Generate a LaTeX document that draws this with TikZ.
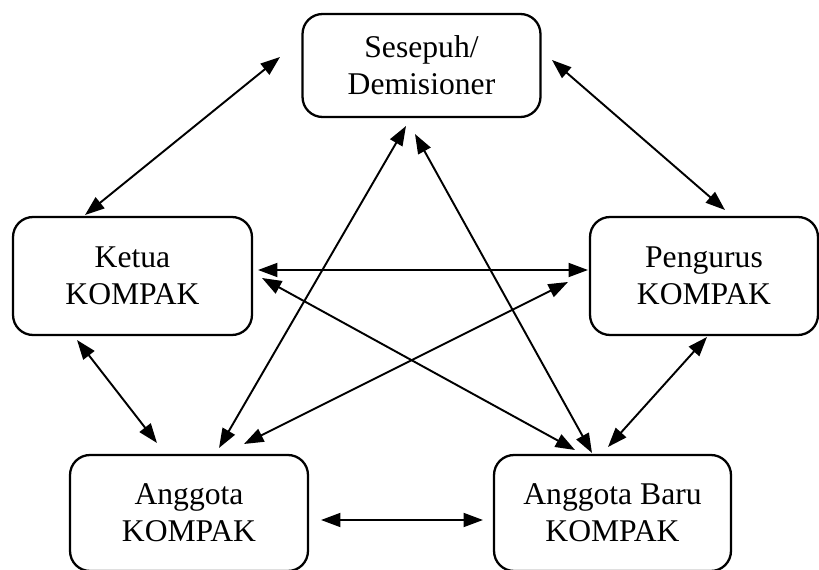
\documentclass[tikz,border=0pt]{standalone}
\usepackage{fontspec}
\setmainfont{Liberation Serif}
\usetikzlibrary{arrows.meta}

\begin{document}
\begin{tikzpicture}[x=0.02cm, y=-0.02cm,
                box/.style={draw, line width=1.3pt, rounded corners=0.4cm, align=center, inner sep=0pt,
                    font=\fontsize{18}{21}\selectfont},
                link/.style={line width=1.1pt,
                    {Triangle[length=3.9mm,width=2.8mm]}-{Triangle[length=3.9mm,width=2.8mm]}}]
                \useasboundingbox (0,0) rectangle (819,570);
                \node[box, minimum width=4.76cm, minimum height=2.06cm] (sesepuh) at (421.5,65.5) {Sesepuh/\\Demisioner};
                \node[box, minimum width=4.78cm, minimum height=2.36cm] (ketua) at (132.5,276) {Ketua\\KOMPAK};
                \node[box, minimum width=4.56cm, minimum height=2.36cm] (pengurus) at (704,276) {Pengurus\\KOMPAK};
                \node[box, minimum width=4.76cm, minimum height=2.32cm] (anggota) at (189,513) {Anggota\\KOMPAK};
                \node[box, minimum width=4.74cm, minimum height=2.32cm] (baru) at (612.5,513) {Anggota Baru\\KOMPAK};
                \coordinate (sesK) at (280,57);
                \coordinate (ketS) at (85,215);
                \coordinate (sesP) at (552,60);
                \coordinate (penS) at (725,210);
                \coordinate (ketP) at (258,270);
                \coordinate (penK) at (588,270);
                \coordinate (ketA) at (77,340);
                \coordinate (angK) at (157,443);
                \coordinate (penB) at (707,337);
                \coordinate (barP) at (608,447);
                \coordinate (angB) at (321,520);
                \coordinate (barA) at (483,520);
                \coordinate (sesA) at (406,126);
                \coordinate (angS) at (219,448);
                \coordinate (sesB) at (415,134);
                \coordinate (barS) at (592,453);
                \coordinate (ketB) at (262,278);
                \coordinate (barK) at (575,450);
                \coordinate (penA) at (568,282);
                \coordinate (angP) at (244,444);
                \draw[link] (sesK) -- (ketS);
                \draw[link] (sesP) -- (penS);
                \draw[link] (ketP) -- (penK);
                \draw[link] (ketA) -- (angK);
                \draw[link] (penB) -- (barP);
                \draw[link] (angB) -- (barA);
                \draw[link] (sesA) -- (angS);
                \draw[link] (sesB) -- (barS);
                \draw[link] (ketB) -- (barK);
                \draw[link] (penA) -- (angP);
            \end{tikzpicture}
\end{document}
